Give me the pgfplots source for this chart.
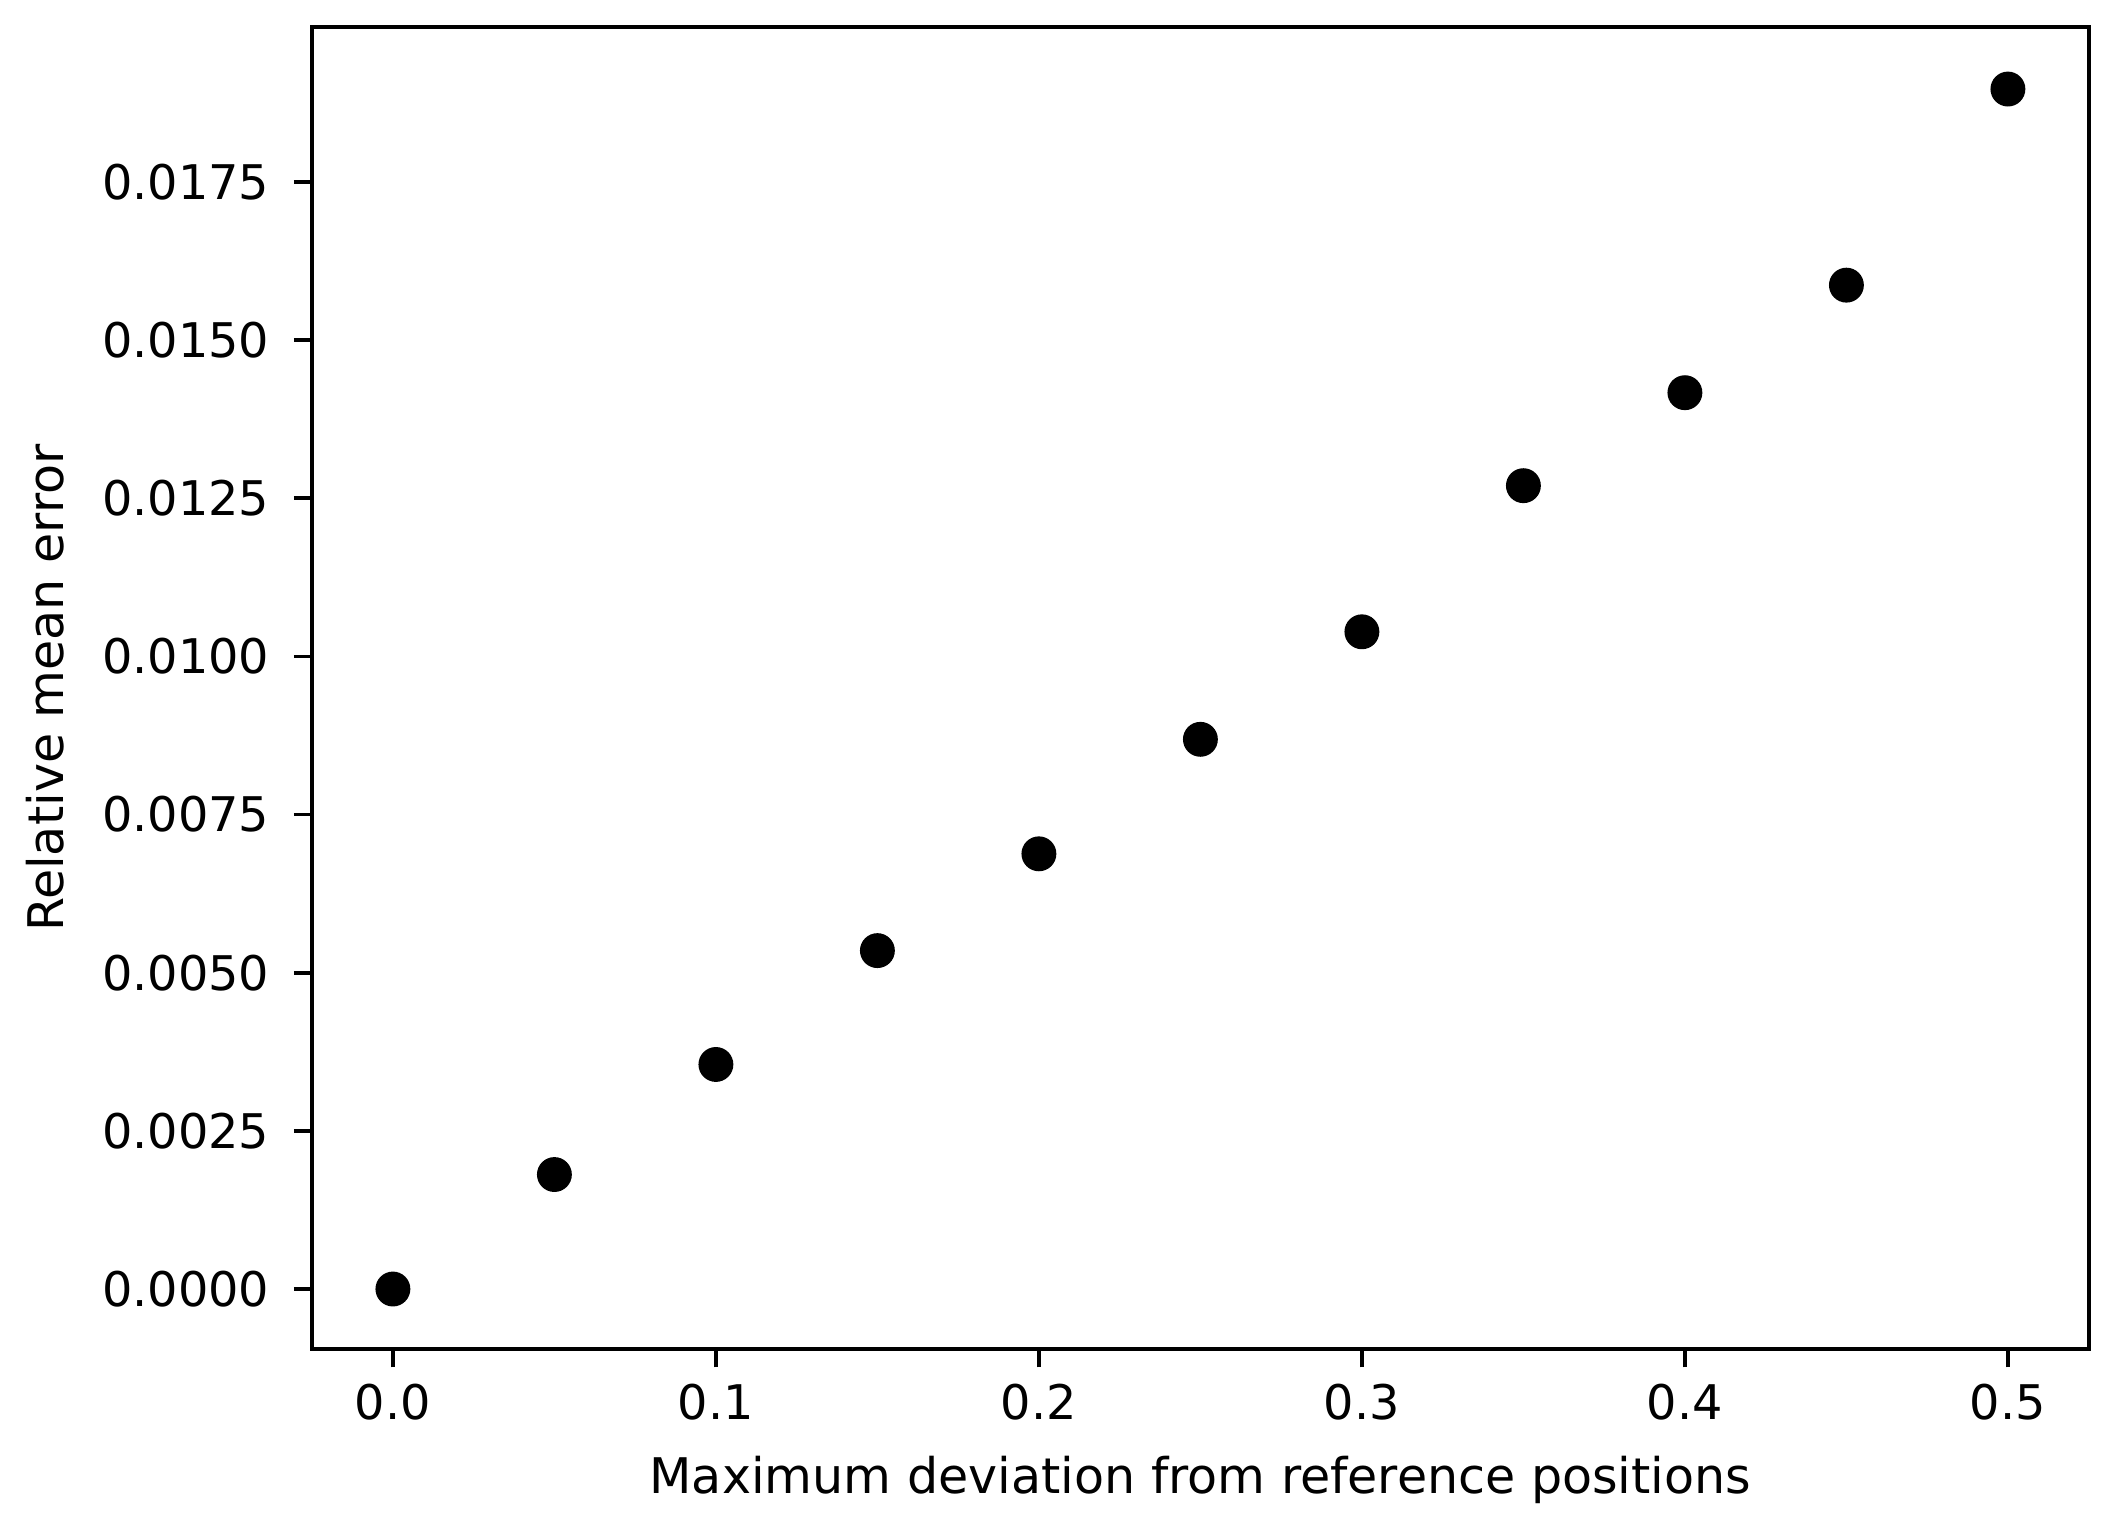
\documentclass[border=0pt]{standalone}
\usepackage{fontspec}
\setmainfont{DejaVu Sans}
\usepackage{pgfplots}
\pgfplotsset{compat=1.18}

\begin{document}
\begin{tikzpicture}
\begin{axis}[
    scale only axis,
    width=387pt,
    height=288pt,
    xmin=-0.025, xmax=0.525,
    ymin=-0.00095, ymax=0.01995,
    xtick={0,0.1,0.2,0.3,0.4,0.5},
    ytick={0,0.0025,0.005,0.0075,0.01,0.0125,0.015,0.0175},
    scaled y ticks=false,
    scaled x ticks=false,
    xticklabel style={/pgf/number format/.cd, fixed, fixed zerofill, precision=1, assume math mode=true},
    yticklabel style={xshift=-1.8pt, /pgf/number format/.cd, fixed, fixed zerofill, precision=4, assume math mode=true},
    tick align=outside,
    tick pos=left,
    major tick length=4pt,
    tick style={black, line width=0.8pt},
    axis line style={line width=0.8pt},
    xlabel={Maximum deviation from reference positions},
    ylabel={Relative mean error},
    xlabel style={yshift=-1pt},
    ylabel style={yshift=1.5pt},
    label style={font=\fontsize{10.7}{12}\selectfont},
    ticklabel style={font=\fontsize{10.4}{12}\selectfont},
]
\addplot[only marks, mark=*, mark size=3.6pt, mark options={fill=black, draw=black}] coordinates {
    (0.00,0.0000)
    (0.05,0.00181)
    (0.10,0.00355)
    (0.15,0.00535)
    (0.20,0.00688)
    (0.25,0.00869)
    (0.30,0.01039)
    (0.35,0.01270)
    (0.40,0.01417)
    (0.45,0.01587)
    (0.50,0.01897)
};
\end{axis}
\path ([shift={(-68pt,-37pt)}]current axis.south west) rectangle ([shift={(5.3pt,5.9pt)}]current axis.north east);
\end{tikzpicture}
\end{document}
